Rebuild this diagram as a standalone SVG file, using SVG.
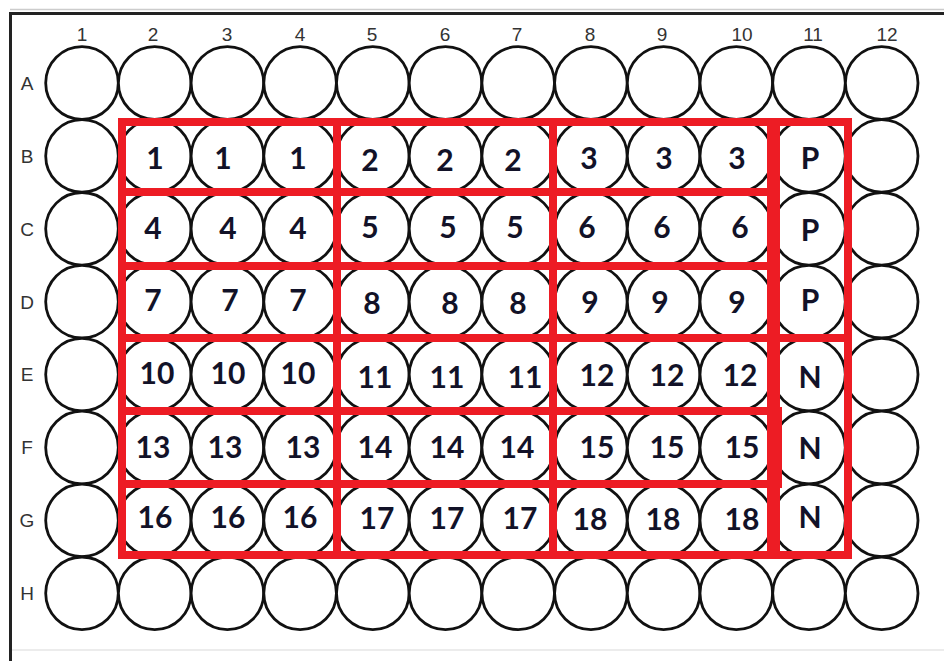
<svg xmlns="http://www.w3.org/2000/svg" width="944" height="661" viewBox="0 0 944 661">
<style>
.w{fill:#fff;stroke:#111;stroke-width:2.8}
.n{font-family:Lato,"Open Sans","Liberation Sans",sans-serif;font-weight:700;font-size:30px;fill:#121228;text-anchor:middle}
.lb{font-family:"Liberation Sans",sans-serif;font-size:19px;fill:#333;text-anchor:middle}
.r{fill:none;stroke:#ED1C24;stroke-width:8}
</style>
<rect width="944" height="661" fill="#fff"/>
<g id="plate">
<line x1="10" y1="9.5" x2="944" y2="9.5" stroke="#ccc" stroke-width="1.5"/>
<line x1="9" y1="13.5" x2="944" y2="13.5" stroke="#222" stroke-width="3"/>
<line x1="10.5" y1="12" x2="10.5" y2="661" stroke="#222" stroke-width="3"/>
<line x1="12" y1="650" x2="944" y2="650" stroke="#e6e6e6" stroke-width="1.5"/>
</g>
<g id="col-labels">
<text class="lb" x="82" y="41">1</text><text class="lb" x="153" y="41">2</text><text class="lb" x="227" y="41">3</text><text class="lb" x="300" y="41">4</text><text class="lb" x="372" y="41">5</text><text class="lb" x="445" y="41">6</text><text class="lb" x="517" y="41">7</text><text class="lb" x="590" y="41">8</text><text class="lb" x="662" y="41">9</text><text class="lb" x="742" y="41">10</text><text class="lb" x="813" y="41">11</text><text class="lb" x="887" y="41">12</text>
</g>
<g id="row-labels">
<text class="lb" x="27" y="90">A</text><text class="lb" x="27" y="163">B</text><text class="lb" x="27" y="236">C</text><text class="lb" x="27" y="309">D</text><text class="lb" x="27" y="381">E</text><text class="lb" x="27" y="454">F</text><text class="lb" x="27" y="527">G</text><text class="lb" x="27" y="600">H</text>
</g>
<g id="row-A">
<g id="A1"><circle class="w" cx="82" cy="83" r="36.3"/></g><g id="A2"><circle class="w" cx="154.7" cy="83" r="36.3"/></g><g id="A3"><circle class="w" cx="227.4" cy="83" r="36.3"/></g><g id="A4"><circle class="w" cx="300.1" cy="83" r="36.3"/></g><g id="A5"><circle class="w" cx="372.8" cy="83" r="36.3"/></g><g id="A6"><circle class="w" cx="445.5" cy="83" r="36.3"/></g><g id="A7"><circle class="w" cx="518.2" cy="83" r="36.3"/></g><g id="A8"><circle class="w" cx="590.9" cy="83" r="36.3"/></g><g id="A9"><circle class="w" cx="663.6" cy="83" r="36.3"/></g><g id="A10"><circle class="w" cx="736.3" cy="83" r="36.3"/></g><g id="A11"><circle class="w" cx="809" cy="83" r="36.3"/></g><g id="A12"><circle class="w" cx="881.7" cy="83" r="36.3"/></g>
</g>
<g id="row-B">
<g id="B1"><circle class="w" cx="82" cy="155.9" r="36.3"/></g>
<g id="B2"><circle class="w" cx="154.7" cy="155.9" r="36.3"/><text class="n" x="155" y="169">1</text></g>
<g id="B3"><circle class="w" cx="227.4" cy="155.9" r="36.3"/><text class="n" x="223" y="169">1</text></g>
<g id="B4"><circle class="w" cx="300.1" cy="155.9" r="36.3"/><text class="n" x="298" y="169">1</text></g>
<g id="B5"><circle class="w" cx="372.8" cy="155.9" r="36.3"/><text class="n" x="370" y="171">2</text></g>
<g id="B6"><circle class="w" cx="445.5" cy="155.9" r="36.3"/><text class="n" x="445" y="171">2</text></g>
<g id="B7"><circle class="w" cx="518.2" cy="155.9" r="36.3"/><text class="n" x="513" y="171">2</text></g>
<g id="B8"><circle class="w" cx="590.9" cy="155.9" r="36.3"/><text class="n" x="589" y="169">3</text></g>
<g id="B9"><circle class="w" cx="663.6" cy="155.9" r="36.3"/><text class="n" x="664" y="169">3</text></g>
<g id="B10"><circle class="w" cx="736.3" cy="155.9" r="36.3"/><text class="n" x="737" y="169">3</text></g>
<g id="B11"><circle class="w" cx="809" cy="155.9" r="36.3"/><text class="n" x="810" y="169">P</text></g>
<g id="B12"><circle class="w" cx="881.7" cy="155.9" r="36.3"/></g>
</g>
<g id="row-C">
<g id="C1"><circle class="w" cx="82" cy="228.8" r="36.3"/></g>
<g id="C2"><circle class="w" cx="154.7" cy="228.8" r="36.3"/><text class="n" x="153" y="239">4</text></g>
<g id="C3"><circle class="w" cx="227.4" cy="228.8" r="36.3"/><text class="n" x="228" y="239">4</text></g>
<g id="C4"><circle class="w" cx="300.1" cy="228.8" r="36.3"/><text class="n" x="298" y="239">4</text></g>
<g id="C5"><circle class="w" cx="372.8" cy="228.8" r="36.3"/><text class="n" x="370" y="238">5</text></g>
<g id="C6"><circle class="w" cx="445.5" cy="228.8" r="36.3"/><text class="n" x="448" y="238">5</text></g>
<g id="C7"><circle class="w" cx="518.2" cy="228.8" r="36.3"/><text class="n" x="515" y="238">5</text></g>
<g id="C8"><circle class="w" cx="590.9" cy="228.8" r="36.3"/><text class="n" x="587" y="238">6</text></g>
<g id="C9"><circle class="w" cx="663.6" cy="228.8" r="36.3"/><text class="n" x="662" y="238">6</text></g>
<g id="C10"><circle class="w" cx="736.3" cy="228.8" r="36.3"/><text class="n" x="740" y="238">6</text></g>
<g id="C11"><circle class="w" cx="809" cy="228.8" r="36.3"/><text class="n" x="810" y="241">P</text></g>
<g id="C12"><circle class="w" cx="881.7" cy="228.8" r="36.3"/></g>
</g>
<g id="row-D">
<g id="D1"><circle class="w" cx="82" cy="301.7" r="36.3"/></g>
<g id="D2"><circle class="w" cx="154.7" cy="301.7" r="36.3"/><text class="n" x="153" y="311">7</text></g>
<g id="D3"><circle class="w" cx="227.4" cy="301.7" r="36.3"/><text class="n" x="230" y="311">7</text></g>
<g id="D4"><circle class="w" cx="300.1" cy="301.7" r="36.3"/><text class="n" x="298" y="311">7</text></g>
<g id="D5"><circle class="w" cx="372.8" cy="301.7" r="36.3"/><text class="n" x="372" y="314">8</text></g>
<g id="D6"><circle class="w" cx="445.5" cy="301.7" r="36.3"/><text class="n" x="450" y="314">8</text></g>
<g id="D7"><circle class="w" cx="518.2" cy="301.7" r="36.3"/><text class="n" x="518" y="314">8</text></g>
<g id="D8"><circle class="w" cx="590.9" cy="301.7" r="36.3"/><text class="n" x="590" y="313">9</text></g>
<g id="D9"><circle class="w" cx="663.6" cy="301.7" r="36.3"/><text class="n" x="660" y="313">9</text></g>
<g id="D10"><circle class="w" cx="736.3" cy="301.7" r="36.3"/><text class="n" x="737" y="313">9</text></g>
<g id="D11"><circle class="w" cx="809" cy="301.7" r="36.3"/><text class="n" x="810" y="311">P</text></g>
<g id="D12"><circle class="w" cx="881.7" cy="301.7" r="36.3"/></g>
</g>
<g id="row-E">
<g id="E1"><circle class="w" cx="82" cy="374.6" r="36.3"/></g>
<g id="E2"><circle class="w" cx="154.7" cy="374.6" r="36.3"/><text class="n" x="157" y="384">10</text></g>
<g id="E3"><circle class="w" cx="227.4" cy="374.6" r="36.3"/><text class="n" x="228" y="384">10</text></g>
<g id="E4"><circle class="w" cx="300.1" cy="374.6" r="36.3"/><text class="n" x="298" y="384">10</text></g>
<g id="E5"><circle class="w" cx="372.8" cy="374.6" r="36.3"/><text class="n" x="375" y="388">11</text></g>
<g id="E6"><circle class="w" cx="445.5" cy="374.6" r="36.3"/><text class="n" x="447" y="388">11</text></g>
<g id="E7"><circle class="w" cx="518.2" cy="374.6" r="36.3"/><text class="n" x="525" y="388">11</text></g>
<g id="E8"><circle class="w" cx="590.9" cy="374.6" r="36.3"/><text class="n" x="597" y="386">12</text></g>
<g id="E9"><circle class="w" cx="663.6" cy="374.6" r="36.3"/><text class="n" x="667" y="386">12</text></g>
<g id="E10"><circle class="w" cx="736.3" cy="374.6" r="36.3"/><text class="n" x="740" y="386">12</text></g>
<g id="E11"><circle class="w" cx="809" cy="374.6" r="36.3"/><text class="n" x="810" y="388">N</text></g>
<g id="E12"><circle class="w" cx="881.7" cy="374.6" r="36.3"/></g>
</g>
<g id="row-F">
<g id="F1"><circle class="w" cx="82" cy="447.5" r="36.3"/></g>
<g id="F2"><circle class="w" cx="154.7" cy="447.5" r="36.3"/><text class="n" x="153" y="458">13</text></g>
<g id="F3"><circle class="w" cx="227.4" cy="447.5" r="36.3"/><text class="n" x="225" y="458">13</text></g>
<g id="F4"><circle class="w" cx="300.1" cy="447.5" r="36.3"/><text class="n" x="303" y="458">13</text></g>
<g id="F5"><circle class="w" cx="372.8" cy="447.5" r="36.3"/><text class="n" x="375" y="458">14</text></g>
<g id="F6"><circle class="w" cx="445.5" cy="447.5" r="36.3"/><text class="n" x="447" y="458">14</text></g>
<g id="F7"><circle class="w" cx="518.2" cy="447.5" r="36.3"/><text class="n" x="517" y="458">14</text></g>
<g id="F8"><circle class="w" cx="590.9" cy="447.5" r="36.3"/><text class="n" x="597" y="458">15</text></g>
<g id="F9"><circle class="w" cx="663.6" cy="447.5" r="36.3"/><text class="n" x="667" y="458">15</text></g>
<g id="F10"><circle class="w" cx="736.3" cy="447.5" r="36.3"/><text class="n" x="742" y="458">15</text></g>
<g id="F11"><circle class="w" cx="809" cy="447.5" r="36.3"/><text class="n" x="810" y="459">N</text></g>
<g id="F12"><circle class="w" cx="881.7" cy="447.5" r="36.3"/></g>
</g>
<g id="row-G">
<g id="G1"><circle class="w" cx="82" cy="520.4" r="36.3"/></g>
<g id="G2"><circle class="w" cx="154.7" cy="520.4" r="36.3"/><text class="n" x="155" y="528">16</text></g>
<g id="G3"><circle class="w" cx="227.4" cy="520.4" r="36.3"/><text class="n" x="228" y="528">16</text></g>
<g id="G4"><circle class="w" cx="300.1" cy="520.4" r="36.3"/><text class="n" x="300" y="528">16</text></g>
<g id="G5"><circle class="w" cx="372.8" cy="520.4" r="36.3"/><text class="n" x="377" y="529">17</text></g>
<g id="G6"><circle class="w" cx="445.5" cy="520.4" r="36.3"/><text class="n" x="447" y="529">17</text></g>
<g id="G7"><circle class="w" cx="518.2" cy="520.4" r="36.3"/><text class="n" x="520" y="529">17</text></g>
<g id="G8"><circle class="w" cx="590.9" cy="520.4" r="36.3"/><text class="n" x="590" y="530">18</text></g>
<g id="G9"><circle class="w" cx="663.6" cy="520.4" r="36.3"/><text class="n" x="663" y="530">18</text></g>
<g id="G10"><circle class="w" cx="736.3" cy="520.4" r="36.3"/><text class="n" x="742" y="530">18</text></g>
<g id="G11"><circle class="w" cx="809" cy="520.4" r="36.3"/><text class="n" x="810" y="528">N</text></g>
<g id="G12"><circle class="w" cx="881.7" cy="520.4" r="36.3"/></g>
</g>
<g id="row-H">
<g id="H1"><circle class="w" cx="82" cy="593.3" r="36.3"/></g><g id="H2"><circle class="w" cx="154.7" cy="593.3" r="36.3"/></g><g id="H3"><circle class="w" cx="227.4" cy="593.3" r="36.3"/></g><g id="H4"><circle class="w" cx="300.1" cy="593.3" r="36.3"/></g><g id="H5"><circle class="w" cx="372.8" cy="593.3" r="36.3"/></g><g id="H6"><circle class="w" cx="445.5" cy="593.3" r="36.3"/></g><g id="H7"><circle class="w" cx="518.2" cy="593.3" r="36.3"/></g><g id="H8"><circle class="w" cx="590.9" cy="593.3" r="36.3"/></g><g id="H9"><circle class="w" cx="663.6" cy="593.3" r="36.3"/></g><g id="H10"><circle class="w" cx="736.3" cy="593.3" r="36.3"/></g><g id="H11"><circle class="w" cx="809" cy="593.3" r="36.3"/></g><g id="H12"><circle class="w" cx="881.7" cy="593.3" r="36.3"/></g>
</g>
<g id="groups">
<rect class="r" x="122" y="122" width="649" height="433"/>
<path class="r" d="M122 192H777M122 266H772M122 338H849M122 411H782M122 484H782M337 122V555M553 122V555M776 122V555M778 411V488"/>
<rect class="r" x="776" y="122" width="72" height="433"/>
</g>
</svg>
